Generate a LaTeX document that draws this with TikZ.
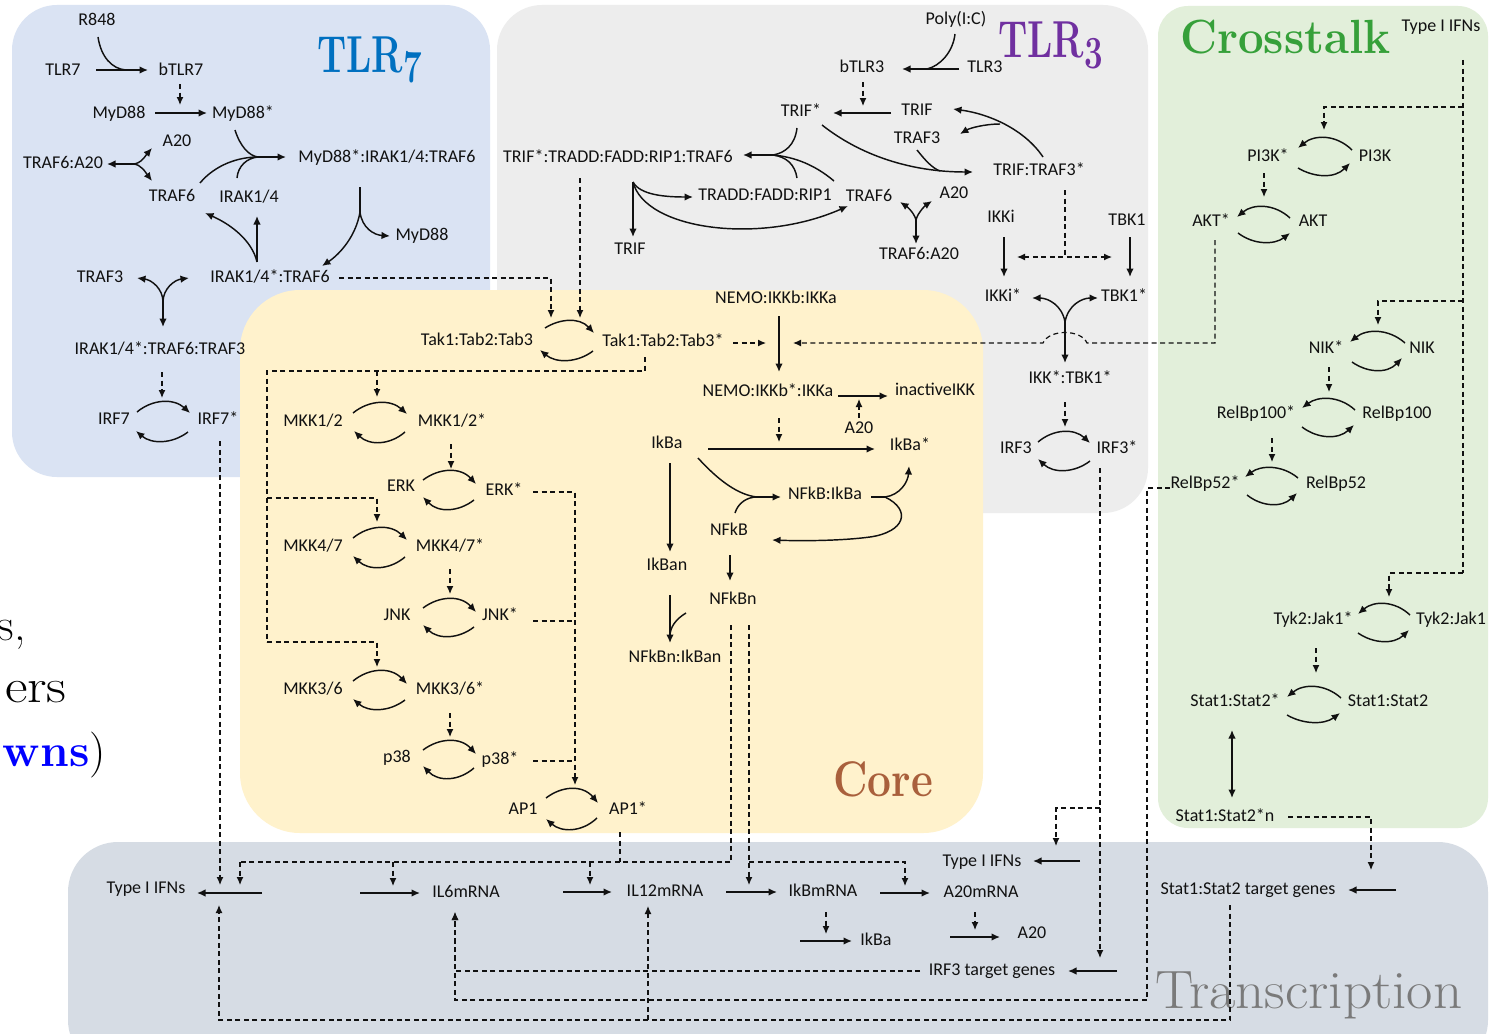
\documentclass[tikz,border=0pt]{standalone}
\usepackage{fontspec}
\setmainfont{Carlito}
\newfontfamily\lmr{Latin Modern Roman}
\usetikzlibrary{arrows.meta,calc}
\definecolor{pA}{HTML}{DAE3F3}
\definecolor{pB}{HTML}{EDEDED}
\definecolor{pC}{HTML}{E2EFDA}
\definecolor{pD}{HTML}{FFF2CC}
\definecolor{pE}{HTML}{D6DCE4}
\definecolor{cA}{HTML}{0070C0}
\definecolor{cB}{HTML}{7030A0}
\definecolor{cC}{HTML}{36A03A}
\definecolor{cD}{HTML}{A9603C}
\definecolor{cE}{HTML}{7A7A7A}
\definecolor{ink}{HTML}{111111}
\newcommand\osd[2]{\raisebox{#2}{\fontsize{46}{46}\selectfont #1}}
\newcommand\tarc[5]{\draw[arr] (#1,#2) .. controls ({#1+0.3*(#3-#1)},{#2+(#5-#2)*1.33}) and ({#3-0.3*(#3-#1)},{#4+(#5-#4)*1.33}) .. (#3,#4);}
\begin{document}
\begin{tikzpicture}[x=1pt,y=-1pt,
  lbl/.style={inner sep=0pt,text=ink,font=\fontsize{18}{21}\selectfont,text height=12pt,text depth=3pt},
  ttl/.style={inner sep=0pt,anchor=base west},
  arr/.style={draw=ink,line width=1.45pt,-{Latex[length=8.5pt,width=7.5pt]}},
  ln/.style={draw=ink,line width=1.45pt},
  darr/.style={draw=ink,line width=1.2pt,dash pattern=on 5pt off 3.5pt,-{Latex[length=8pt,width=7pt]}},
  dln/.style={draw=ink,line width=1.2pt,dash pattern=on 5pt off 3.5pt},
  ddarr/.style={draw=ink,line width=1.2pt,dash pattern=on 5pt off 3.5pt,{Latex[length=8pt,width=7pt]}-{Latex[length=8pt,width=7pt]}},
  bdarr/.style={draw=ink,line width=1.45pt,{Latex[length=8.5pt,width=7.5pt]}-{Latex[length=8.5pt,width=7.5pt]}},
]
\useasboundingbox (0,0) rectangle (1495,1033);
\fill[white] (0,0) rectangle (1495,1033);
% panels
\fill[pA, rounded corners=45pt] (12,5) rectangle (490,477);
\fill[pB, rounded corners=45pt] (497,5) rectangle (1148,513);
\fill[pC, rounded corners=30pt] (1158,6) rectangle (1488,828);
\fill[pD, rounded corners=60pt] (240,290) rectangle (983,833);
\fill[pE, rounded corners=50pt] (68,842) rectangle (1488,1070);

% partial text at left edge
\node[anchor=base east,inner sep=0pt,font=\lmr\fontsize{46}{50}\selectfont] (ls1) at (26,640) {s,};
\node[anchor=base east,inner sep=0pt,font=\lmr\fontsize{48}{50}\selectfont] (ls2) at (67,702) {\scalebox{1.15}[1]{ers}};
\node[anchor=base east,inner sep=0pt,font=\lmr\fontsize{46}{50}\selectfont] (ls3) at (106,766) {\textcolor{blue}{\bfseries wns})};

% titles
\node[ttl,text=cA,font=\lmr\bfseries\fontsize{52}{56}\selectfont] (t7) at (317,72) {\scalebox{0.72}[1]{TLR\osd{7}{-10pt}}};
\node[ttl,text=cB,font=\lmr\bfseries\fontsize{52}{56}\selectfont] (t3) at (998,57) {\scalebox{0.72}[1]{TLR\osd{3}{-11pt}}};
\node[ttl,text=cC,font=\lmr\bfseries\fontsize{48}{52}\selectfont] (tc) at (1180,53) {\scalebox{0.95}[1]{Crosstalk}};
\node[ttl,text=cD,font=\lmr\bfseries\fontsize{50}{54}\selectfont] (tco) at (833,796) {\scalebox{0.85}[1]{Core}};
\node[ttl,text=cE,font=\lmr\fontsize{54}{58}\selectfont] (ttr) at (1155,1008) {\scalebox{1.06}[1]{Transcription}};

% ---------------- TLR7 ----------------
\node[lbl] (r848) at (97,21) {R848};
\node[lbl] (tlr7) at (63,71) {TLR7};
\node[lbl] (btlr7) at (181,71) {bTLR7};
\node[lbl] (myd88) at (119,114) {MyD88};
\node[lbl] (myd88s) at (243,114) {MyD88*};
\node[lbl] (a20a) at (177,142) {A20};
\node[lbl] (t6a20a) at (63,164) {TRAF6:A20};
\node[lbl] (traf6a) at (172,197) {TRAF6};
\node[lbl] (irak) at (249,198) {IRAK1/4};
\node[lbl] (mic) at (387,158) {MyD88*:IRAK1/4:TRAF6};
\node[lbl] (myd88b) at (422,236) {MyD88};
\node[lbl] (traf3a) at (100,278) {TRAF3};
\node[lbl] (ik6) at (270,278) {IRAK1/4*:TRAF6};
\node[lbl] (ik63) at (160,350) {IRAK1/4*:TRAF6:TRAF3};
\node[lbl] (irf7) at (114,420) {IRF7};
\node[lbl] (irf7s) at (218,420) {IRF7*};

\draw[arr] (96,70) -- (148,70);
\draw[ln] (98,37) .. controls (101,57) and (112,69) .. (126,70);
\draw[darr] (180,84) -- (180,105);
\draw[arr] (155,113) -- (207,113);
\coordinate (jA) at (133,164);
\draw[arr] (jA) -- (107,164);
\draw[arr] (jA) .. controls (141,164) and (146,155) .. (152,148);
\draw[arr] (jA) .. controls (141,164) and (146,173) .. (152,181);
\coordinate (jB) at (258,157);
\draw[arr] (jB) -- (286,157);
\draw[ln] (235,130) .. controls (240,146) and (249,156) .. (jB);
\draw[ln] (200,183) .. controls (215,165) and (238,157) .. (jB);
\draw[ln] (237,178) .. controls (238,166) and (247,158) .. (jB);
\draw[ln] (360,187) -- (360,212);
\draw[arr] (360,212) .. controls (362,228) and (374,235) .. (390,236);
\draw[arr] (360,212) .. controls (356,236) and (340,254) .. (322,266);
\coordinate (jC) at (257,262);
\draw[arr] (jC) -- (257,216);
\draw[arr] (jC) .. controls (252,240) and (230,224) .. (205,213);
\coordinate (jD) at (163,302);
\draw[arr] (jD) .. controls (163,289) and (152,280) .. (137,278);
\draw[arr] (jD) .. controls (163,289) and (174,280) .. (189,278);
\draw[arr] (jD) -- (163,327);
\draw[darr] (162,372) -- (162,398);
\tarc{137}{412}{190}{413}{402}
\tarc{188}{432}{136}{431}{441}
\draw[darr] (220,441) -- (220,885);
\draw[darr] (339,278) -| (551,318);

% ---------------- TLR3 ----------------
\node[lbl] (poly) at (956,20) {Poly(I:C)};
\node[lbl] (tlr3) at (985,68) {TLR3};
\node[lbl] (btlr3) at (862,68) {bTLR3};
\node[lbl] (trif) at (917,111) {TRIF};
\node[lbl] (trifs) at (801,112) {TRIF*};
\node[lbl] (traf3b) at (917,139) {TRAF3};
\node[lbl] (tt3) at (1039,171) {TRIF:TRAF3*};
\node[lbl] (big) at (618,158) {TRIF*:TRADD:FADD:RIP1:TRAF6};
\node[lbl] (tfr) at (765,196) {TRADD:FADD:RIP1};
\node[lbl] (traf6b) at (869,197) {TRAF6};
\node[lbl] (a20b) at (954,194) {A20};
\node[lbl] (t6a20b) at (919,255) {TRAF6:A20};
\node[lbl] (trif2) at (630,250) {TRIF};
\node[lbl] (ikki) at (1001,218) {IKKi};
\node[lbl] (tbk1) at (1127,221) {TBK1};
\node[lbl] (ikkis) at (1003,297) {IKKi*};
\node[lbl] (tbk1s) at (1124,297) {TBK1*};
\node[lbl] (ikt) at (1070,379) {IKK*:TBK1*};
\node[lbl] (irf3) at (1016,449) {IRF3};
\node[lbl] (irf3s) at (1117,449) {IRF3*};

\draw[arr] (959,69) -- (902,69);
\draw[ln] (955,34) .. controls (953,52) and (940,66) .. (927,69);
\draw[darr] (863,82) -- (863,106);
\draw[arr] (891,113) -- (833,113);
\draw[arr] (822,125) .. controls (860,155) and (910,172) .. (973,172);
\draw[ln] (917,150) .. controls (925,160) and (932,168) .. (940,171);
\draw[arr] (1043,157) .. controls (1025,130) and (990,114) .. (953,109);
\draw[arr] (1000,124) .. controls (985,124) and (970,128) .. (960,134);
\coordinate (jE) at (773,155);
\draw[arr] (jE) -- (743,155);
\draw[ln] (797,128) .. controls (795,145) and (785,153) .. (jE);
\draw[ln] (797,178) .. controls (795,165) and (787,157) .. (jE);
\draw[ln] (834,181) .. controls (815,165) and (795,157) .. (jE);
\coordinate (jF) at (633,182);
\draw[arr] (jF) -- (633,237);
\draw[arr] (jF) .. controls (640,195) and (665,197) .. (693,197);
\draw[arr] (jF) .. controls (645,230) and (760,245) .. (848,206);
\coordinate (jG) at (916,220);
\draw[arr] (jG) .. controls (914,212) and (906,206) .. (900,202);
\draw[arr] (jG) .. controls (918,212) and (926,205) .. (932,201);
\draw[arr] (jG) -- (916,244);
\draw[darr] (580,178) -- (580,318);
\draw[arr] (1004,237) -- (1004,277);
\draw[arr] (1130,237) -- (1130,277);
\draw[dln] (1065,190) -- (1065,257);
\draw[ddarr] (1017,257) -- (1112,257);
\coordinate (jH) at (1065,322);
\draw[arr] (jH) .. controls (1062,305) and (1048,298) .. (1032,298);
\draw[arr] (jH) .. controls (1068,305) and (1082,298) .. (1098,298);
\draw[arr] (jH) -- (1065,363);
\draw[darr] (1065,402) -- (1065,427);
\tarc{1038}{442}{1090}{443}{432}
\tarc{1090}{461}{1038}{459}{470}
\draw[darr] (1100,468) -- (1100,958);
\draw[darr] (1100,808) -| (1056,846);

% ---------------- Crosstalk ----------------
\node[lbl] (tifnC) at (1441,27) {Type I IFNs};
\node[lbl] (pi3ks) at (1268,157) {PI3K*};
\node[lbl] (pi3k) at (1375,157) {PI3K};
\node[lbl] (akts) at (1211,222) {AKT*};
\node[lbl] (akt) at (1313,222) {AKT};
\node[lbl] (niks) at (1326,349) {NIK*};
\node[lbl] (nik) at (1422,349) {NIK};
\node[lbl] (rb100s) at (1256,414) {RelBp100*};
\node[lbl] (rb100) at (1397,414) {RelBp100};
\node[lbl] (rb52s) at (1205,484) {RelBp52*};
\node[lbl] (rb52) at (1336,484) {RelBp52};
\node[lbl] (tyks) at (1313,620) {Tyk2:Jak1*};
\node[lbl] (tyk) at (1451,620) {Tyk2:Jak1};
\node[lbl] (sts) at (1235,702) {Stat1:Stat2*};
\node[lbl] (st) at (1388,702) {Stat1:Stat2};
\node[lbl] (stn) at (1225,817) {Stat1:Stat2*n};

\draw[dln] (1463,60) -- (1463,573);
\draw[darr] (1463,107) -| (1324,130);
\draw[darr] (1463,301) -| (1378,325);
\draw[darr] (1463,573) -| (1389,597);
\tarc{1352}{150}{1298}{148}{138}
\tarc{1298}{168}{1350}{163}{175}
\draw[darr] (1264,173) -- (1264,197);
\tarc{1290}{218}{1237}{217}{207}
\tarc{1238}{233}{1290}{233}{242}
\draw[darr] (1215,240) -- (1215,343) -- (1087,343) .. controls (1081,329) and (1049,329) .. (1043,343) -- (793,343);
\tarc{1405}{343}{1350}{342}{332}
\tarc{1352}{362}{1402}{358}{370}
\draw[darr] (1329,367) -- (1329,392);
\tarc{1355}{410}{1302}{408}{399}
\tarc{1302}{427}{1354}{425}{436}
\draw[darr] (1272,438) -- (1272,462);
\tarc{1298}{478}{1245}{477}{468}
\tarc{1247}{495}{1297}{493}{504}
\draw[darr] (1170,488) -| (1147,1000) -| (455,912);
\tarc{1410}{615}{1358}{614}{604}
\tarc{1358}{633}{1409}{630}{641}
\draw[darr] (1316,648) -- (1316,673);
\tarc{1341}{698}{1287}{697}{687}
\tarc{1287}{715}{1340}{713}{722}
\draw[bdarr] (1232,730) -- (1232,798);
\draw[darr] (1288,817) -| (1371,870);

% ---------------- Core ----------------
\node[lbl] (tak) at (477,341) {Tak1:Tab2:Tab3};
\node[lbl] (taks) at (663,342) {Tak1:Tab2:Tab3*};
\node[lbl] (mk12) at (313,422) {MKK1/2};
\node[lbl] (mk12s) at (452,422) {MKK1/2*};
\node[lbl] (erk) at (401,487) {ERK};
\node[lbl] (erks) at (504,491) {ERK*};
\node[lbl] (mk47) at (313,547) {MKK4/7};
\node[lbl] (mk47s) at (450,547) {MKK4/7*};
\node[lbl] (jnk) at (397,616) {JNK};
\node[lbl] (jnks) at (500,616) {JNK*};
\node[lbl] (mk36) at (313,690) {MKK3/6};
\node[lbl] (mk36s) at (450,690) {MKK3/6*};
\node[lbl] (p38) at (397,758) {p38};
\node[lbl] (p38s) at (500,760) {p38*};
\node[lbl] (ap1) at (523,810) {AP1};
\node[lbl] (ap1s) at (628,810) {AP1*};
\node[lbl] (nemo) at (776,299) {NEMO:IKKb:IKKa};
\node[lbl] (nemos) at (768,392) {NEMO:IKKb*:IKKa};
\node[lbl] (inik) at (935,391) {inactiveIKK};
\node[lbl] (a20c) at (859,429) {A20};
\node[lbl] (ikba) at (667,444) {IkBa};
\node[lbl] (ikbas) at (910,446) {IkBa*};
\node[lbl] (nfkbikba) at (825,495) {NFkB:IkBa};
\node[lbl] (nfkb) at (729,531) {NFkB};
\node[lbl] (ikban) at (667,566) {IkBan};
\node[lbl] (nfkbn) at (733,600) {NFkBn};
\node[lbl] (nfnik) at (675,658) {NFkBn:IkBan};

\tarc{545}{328}{594}{333}{321}
\tarc{593}{351}{540}{350}{360}
\draw[darr] (733,343) -- (766,343);
\draw[dln] (645,357) |- (267,371) -- (267,642);
\draw[darr] (377,371) -- (377,397);
\draw[darr] (267,498) -| (377,522);
\draw[darr] (267,642) -| (377,667);
\tarc{353}{413}{407}{414}{403}
\tarc{405}{432}{354}{431}{442}
\draw[darr] (451,444) -- (451,469);
\tarc{423}{480}{476}{484}{471}
\tarc{474}{500}{423}{497}{509}
\draw[darr] (533,492) -| (575,785);
\tarc{353}{538}{407}{540}{528}
\tarc{405}{557}{353}{556}{567}
\draw[darr] (450,569) -- (450,594);
\tarc{423}{608}{476}{612}{599}
\tarc{474}{627}{423}{625}{636}
\draw[dln] (533,621) -- (575,621);
\tarc{353}{681}{407}{684}{671}
\tarc{405}{700}{353}{699}{709}
\draw[darr] (450,713) -- (450,737);
\tarc{423}{750}{476}{754}{741}
\tarc{474}{768}{423}{766}{778}
\draw[dln] (533,761) -- (575,761);
\tarc{546}{798}{598}{803}{789}
\tarc{597}{818}{546}{819}{829}
\draw[dln] (620,832) -- (620,862);

\draw[arr] (779,316) -- (779,372);
\draw[arr] (838,396) -- (888,396);
\draw[darr] (859,418) -- (859,399);
\draw[darr] (779,418) -- (779,442);
\draw[arr] (708,449) -- (875,449);
\coordinate (jI) at (757,497);
\draw[ln] (698,458) .. controls (718,480) and (738,495) .. (jI);
\draw[ln] (735,513) .. controls (738,503) and (747,497) .. (jI);
\draw[arr] (jI) -- (781,497);
\coordinate (jJ) at (885,497);
\draw[ln] (871,497) -- (jJ);
\draw[arr] (jJ) .. controls (900,495) and (908,482) .. (909,466);
\draw[arr] (jJ) .. controls (912,510) and (905,532) .. (870,537) .. controls (840,541) and (800,541) .. (772,540);
\draw[arr] (670,463) -- (670,552);
\draw[arr] (730,555) -- (730,581);
\draw[arr] (670,595) -- (670,643);
\draw[ln] (686,613) .. controls (676,619) and (670,627) .. (670,636);
\draw[dln] (731,625) -- (731,862) -- (240,862);
\draw[darr] (749,625) -- (749,885);
\draw[darr] (749,862) -| (905,886);

% ---------------- Transcription ----------------
\node[lbl] (tifnA) at (146,889) {Type I IFNs};
\node[lbl] (il6) at (466,893) {IL6mRNA};
\node[lbl] (il12) at (665,892) {IL12mRNA};
\node[lbl] (ikbm) at (823,892) {IkBmRNA};
\node[lbl] (a20m) at (981,893) {A20mRNA};
\node[lbl] (ikbt) at (876,941) {IkBa};
\node[lbl] (a20t) at (1032,934) {A20};
\node[lbl] (tifnB) at (982,862) {Type I IFNs};
\node[lbl] (irf3tg) at (992,971) {IRF3 target genes};
\node[lbl] (stg) at (1248,890) {Stat1:Stat2 target genes};

\draw[arr] (262,893) -- (197,893);
\draw[darr] (240,862) -- (240,885);
\draw[darr] (393,862) -- (393,886);
\draw[darr] (590,862) -- (590,885);
\draw[arr] (360,893) -- (420,893);
\draw[arr] (563,892) -- (612,892);
\draw[arr] (726,892) -- (777,892);
\draw[arr] (880,893) -- (930,893);
\draw[darr] (826,912) -- (826,934);
\draw[arr] (800,941) -- (852,941);
\draw[darr] (975,912) -- (975,930);
\draw[arr] (950,937) -- (1000,937);
\draw[arr] (1080,861) -- (1033,861);
\draw[arr] (1117,971) -- (1068,971);
\draw[darr] (920,971) -| (455,912);
\draw[arr] (1396,890) -- (1348,890);
\draw[darr] (1230,905) |- (219,1020) -- (219,905);
\draw[darr] (648,1020) -- (648,906);
\end{tikzpicture}
\end{document}
